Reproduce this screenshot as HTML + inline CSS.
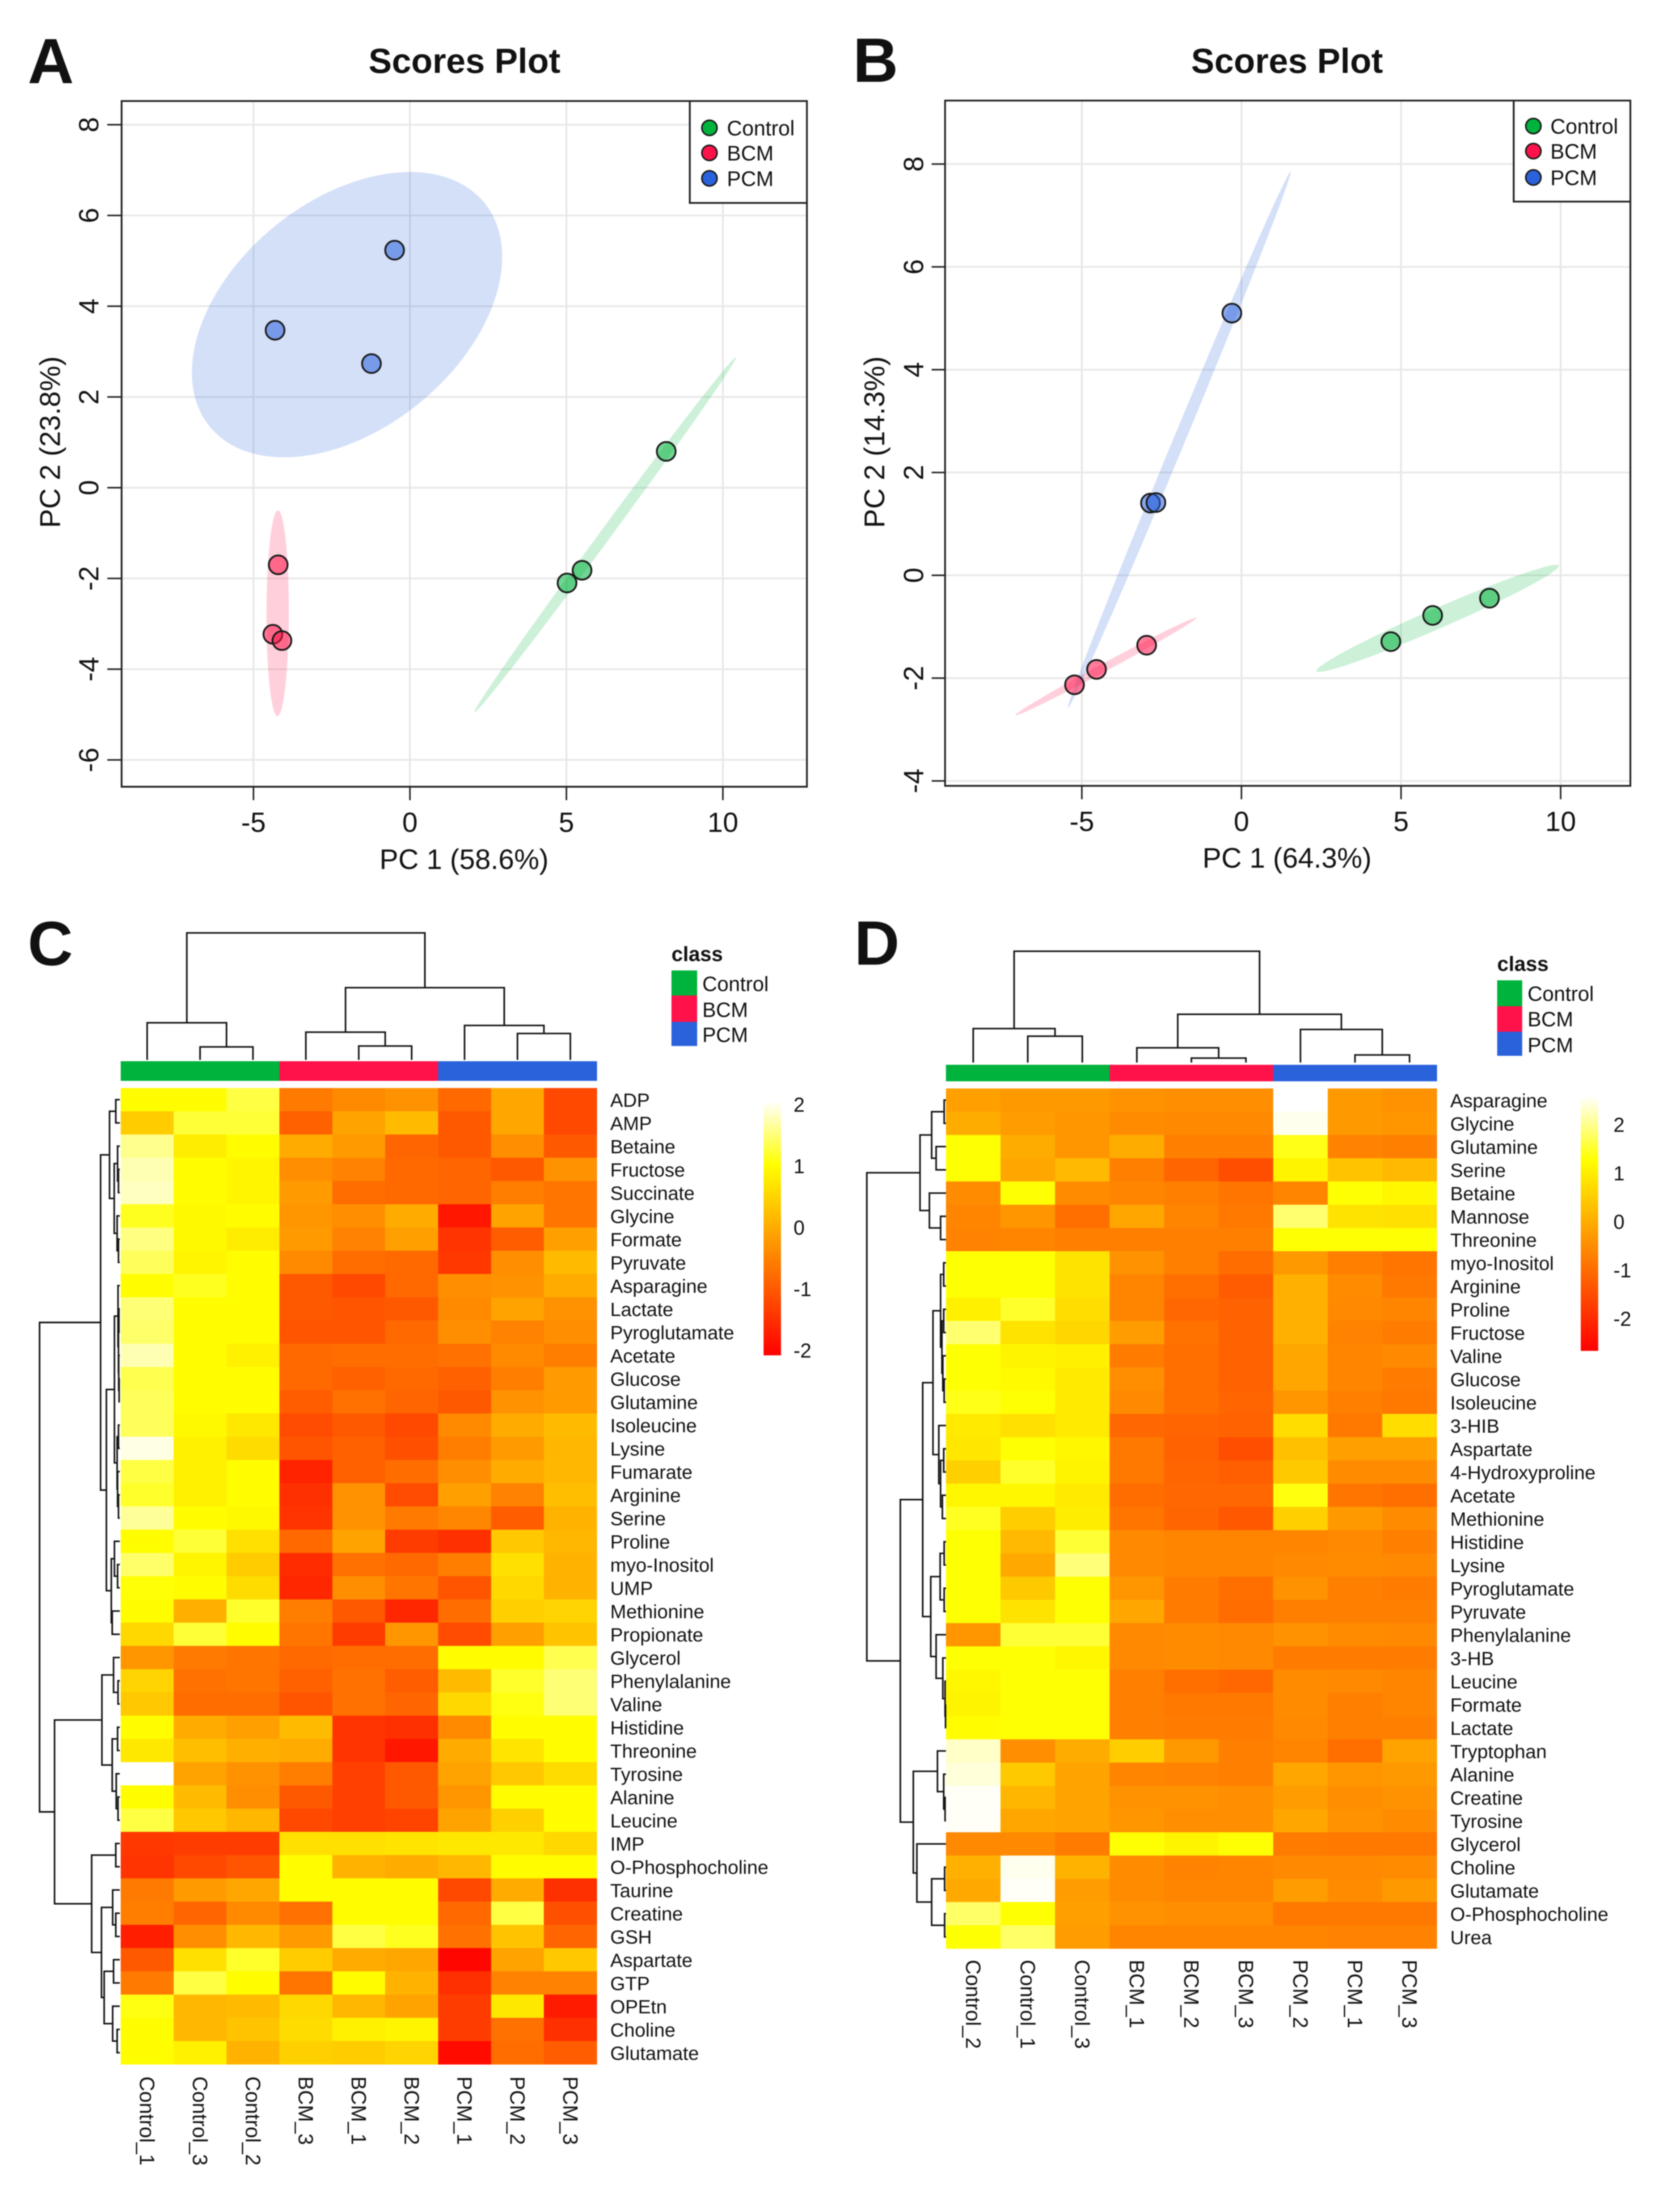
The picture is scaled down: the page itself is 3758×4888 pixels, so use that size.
<!DOCTYPE html>
<html lang="en">
<head>
<meta charset="utf-8">
<title>Scores plots and heatmaps</title>
<style>
html,body{margin:0;padding:0;background:#fff;}
svg{display:block;font-family:"Liberation Sans",Arial,sans-serif;filter:blur(1.2px);}
text{fill:#111;}
</style>
</head>
<body>
<svg id="figure" xmlns="http://www.w3.org/2000/svg" width="3758" height="4888" viewBox="0 0 3758 4888">
<defs>
<linearGradient id="heatGrad" x1="0" y1="1" x2="0" y2="0">
<stop offset="0" stop-color="#ff0000"/><stop offset="0.375" stop-color="#ff8000"/><stop offset="0.75" stop-color="#ffff00"/><stop offset="1" stop-color="#ffffff"/>
</linearGradient>
</defs>
<rect width="3758" height="4888" fill="#fff"/>
<text x="62" y="186" font-size="143" font-weight="700" fill="#000">A</text>
<text x="1908" y="183" font-size="140" font-weight="700" fill="#000">B</text>
<text x="62" y="2159" font-size="140" font-weight="700" fill="#000">C</text>
<text x="1911" y="2158" font-size="140" font-weight="700" fill="#000">D</text>
<text x="1039" y="163" font-size="78" font-weight="700" text-anchor="middle">Scores Plot</text>
<text x="2879" y="163" font-size="78" font-weight="700" text-anchor="middle">Scores Plot</text>
<text x="1038" y="1944" font-size="63" text-anchor="middle">PC 1 (58.6%)</text>
<text x="2879" y="1941" font-size="63" text-anchor="middle">PC 1 (64.3%)</text>
<text transform="translate(134 989) rotate(-90)" font-size="64" text-anchor="middle">PC 2 (23.8%)</text>
<text transform="translate(1978 989) rotate(-90)" font-size="64" text-anchor="middle">PC 2 (14.3%)</text>
<g id="layer"></g>
</svg>
<script>
// ---------- Scores plot A ----------
const aXTicks = [-5, 0, 5, 10];
const aYTicks = [-6, -4, -2, 0, 2, 4, 6, 8];
const aControlPC1 = [8.19, 5.50, 5.02];
const aControlPC2 = [0.80, -1.82, -2.10];
const aBcmPC1 = [-4.21, -4.38, -4.09];
const aBcmPC2 = [-1.70, -3.23, -3.37];
const aPcmPC1 = [-0.49, -4.31, -1.23];
const aPcmPC2 = [5.235, 3.47, 2.735];
// ---------- Scores plot B ----------
const bXTicks = [-5, 0, 5, 10];
const bYTicks = [-4, -2, 0, 2, 4, 6, 8];
const bControlPC1 = [4.68, 5.99, 7.77];
const bControlPC2 = [-1.29, -0.78, -0.445];
const bBcmPC1 = [-5.23, -4.54, -2.97];
const bBcmPC2 = [-2.13, -1.83, -1.36];
const bPcmPC1 = [-0.30, -2.85, -2.68];
const bPcmPC2 = [5.10, 1.405, 1.415];
const classNames = ["Control", "BCM", "PCM"];
// ---------- Heatmap C ----------
const cColumns = ["Control_1","Control_3","Control_2","BCM_3","BCM_1","BCM_2","PCM_1","PCM_2","PCM_3"];
const cRows = ["ADP","AMP","Betaine","Fructose","Succinate","Glycine","Formate","Pyruvate","Asparagine","Lactate","Pyroglutamate","Acetate","Glucose","Glutamine","Isoleucine","Lysine","Fumarate","Arginine","Serine","Proline","myo-Inositol","UMP","Methionine","Propionate","Glycerol","Phenylalanine","Valine","Histidine","Threonine","Tyrosine","Alanine","Leucine","IMP","O-Phosphocholine","Taurine","Creatine","GSH","Aspartate","GTP","OPEtn","Choline","Glutamate"];
const cValues = [
[1.0,1.0,1.3,-.6,-.4,-.3,-.8,-.05,-1.2],
[.4,1.25,1.25,-.9,-.1,.2,-1.0,-.05,-1.2],
[1.6,.8,1.0,0,-.2,-.85,-1.0,-.35,-1.0],
[1.75,1.0,.9,-.35,-.5,-.8,-.85,-1.0,-.3],
[1.8,1.0,.9,-.2,-.75,-.8,-.85,-.55,-.65],
[1.15,.95,1.0,-.25,-.35,0,-1.8,-.1,-.65],
[1.55,.95,.8,-.2,-.5,-.15,-1.45,-.95,-.15],
[1.4,.9,1.0,-.4,-.75,-.8,-1.4,-.35,.2],
[1.0,1.15,1.0,-1.0,-1.2,-.8,-.35,-.3,0],
[1.5,1.0,1.0,-1.0,-1.05,-1.0,-.4,-.1,-.3],
[1.45,1.0,1.0,-1.05,-1.05,-.8,-.35,-.5,-.35],
[1.75,1.0,.85,-.8,-.75,-.75,-.7,-.4,-.55],
[1.35,1.0,1.0,-.8,-.9,-.8,-.9,-.55,-.2],
[1.4,1.0,1.0,-.95,-.7,-.85,-1.0,-.3,-.2],
[1.4,.95,.75,-1.15,-1.0,-1.2,-.4,0,.2],
[1.95,.85,.6,-1.05,-.9,-1.1,-.55,-.2,.15],
[1.3,.85,1.0,-1.65,-.9,-.75,-.35,0,.15],
[1.2,.85,1.0,-1.5,-.3,-1.15,-.15,-.5,.25],
[1.65,1.0,.95,-1.45,-.3,-.6,-.45,-.95,.1],
[1.0,1.25,.65,-.8,-.1,-1.35,-1.5,.35,.15],
[1.45,.9,.4,-1.55,-.7,-.8,-.55,.65,.1],
[1.05,1.0,.6,-1.6,-.35,-.65,-1.05,.55,.1],
[1.0,.05,1.2,-.55,-1.0,-1.6,-.75,.45,.5],
[.55,1.25,1.0,-.65,-1.35,-.25,-1.15,-.15,.3],
[-.25,-.6,-.65,-.8,-.75,-.75,1.0,1.0,1.35],
[.5,-.7,-.65,-.9,-.7,-.95,.2,1.2,1.5],
[.35,-.75,-.75,-1.05,-.7,-.85,.55,1.1,1.5],
[1.0,0,-.15,.2,-1.45,-1.5,-.4,1.0,1.0],
[.75,.25,.05,0,-1.45,-1.8,0,.7,1.0],
[2.05,-.1,-.3,-.55,-1.3,-1.0,-.1,.35,.6],
[1.0,.2,-.35,-1.0,-1.3,-1.0,-.25,1.0,1.0],
[1.3,.35,.15,-1.2,-1.3,-1.25,-.1,.45,1.0],
[-1.4,-1.35,-1.35,.65,.65,.7,.75,.75,.55],
[-1.45,-1.2,-1.05,1.0,.1,0,.15,1.0,1.0],
[-.6,-.2,-.05,1.0,1.0,1.0,-1.2,0,-1.5],
[-.55,-.85,-.4,-.7,1.0,1.0,-.8,1.3,-1.1],
[-1.7,-.35,.15,-.2,1.3,1.15,-.7,.3,-.85],
[-1.0,.65,1.2,.4,0,-.05,-2.0,-.1,.35],
[-.6,1.3,1.0,-.65,1.0,.1,-1.5,-.5,-.5],
[1.1,.15,.2,.55,.15,-.1,-1.35,.75,-1.75],
[1.0,.15,.3,.6,.85,.9,-1.35,-.7,-1.5],
[1.0,.85,.1,.45,.4,.5,-1.95,-.75,-.95]
];
const cScaleTicks = [2, 1, 0, -1, -2];
const cColumnTree = [284,[83,0,[29,1,2]],[161.5,[62,3,[31,4,5]],[77,6,[59,7,8]]]];
const cRowTree = [179.5,
 [43,
  [23,[9,0,1],[12.5,[5,2,[3,3,4]],[6,5,[3,6,7]]]],
  [30,
   [12,[4,8,[3,[2,9,10],[2.5,11,[1.5,12,13]]]],[6,[3,14,15],[5,16,[3,17,18]]]],
   [19,[12,19,[5,20,21]],[17,22,23]]
  ]
 ],
 [146,
  [40,[14,24,[4,25,26]],[17,[5,27,28],[8,29,[4,30,31]]]],
  [63,[9,32,33],[41,[16,34,[9,35,36]],[35,[14,37,38],[16,39,[6,40,41]]]]]
 ]
];
// ---------- Heatmap D ----------
const dColumns = ["Control_2","Control_1","Control_3","BCM_1","BCM_2","BCM_3","PCM_2","PCM_1","PCM_3"];
const dRows = ["Asparagine","Glycine","Glutamine","Serine","Betaine","Mannose","Threonine","myo-Inositol","Arginine","Proline","Fructose","Valine","Glucose","Isoleucine","3-HIB","Aspartate","4-Hydroxyproline","Acetate","Methionine","Histidine","Lysine","Pyroglutamate","Pyruvate","Phenylalanine","3-HB","Leucine","Formate","Lactate","Tryptophan","Alanine","Creatine","Tyrosine","Glycerol","Choline","Glutamate","O-Phosphocholine","Urea"];
const dValues = [
[-.2,-.3,-.3,-.4,-.45,-.45,2.6,-.3,-.4],
[0,-.25,-.35,-.5,-.55,-.55,2.5,-.3,-.35],
[1.3,0,-.35,0,-.7,-.7,1.4,-.65,-.7],
[1.3,-.1,.2,-.7,-1.1,-1.45,1.1,.35,.2],
[-.5,1.3,-.5,-.6,-.7,-.85,-.6,1.3,1.15],
[-.6,-.35,-.95,-.1,-.6,-.8,1.85,.85,.8],
[-.65,-.6,-.7,-.7,-.7,-.7,1.3,1.3,1.3],
[1.3,1.3,.85,-.4,-.7,-1.0,-.3,-.7,-.85],
[1.3,1.3,.85,-.6,-.95,-1.25,.05,-.5,-.8],
[1.05,1.5,.75,-.6,-1.05,-1.15,.05,-.55,-.6],
[1.85,.85,.65,-.25,-.9,-1.15,.05,-.65,-.75],
[1.3,1.1,1.05,-.75,-.95,-1.15,-.1,-.6,-.55],
[1.3,1.2,.95,-.45,-.95,-1.15,-.1,-.6,-.75],
[1.4,1.3,.95,-.55,-.95,-1.1,-.35,-.7,-.8],
[.95,.8,.95,-1.05,-1.1,-1.15,.75,-.8,.75],
[.9,1.3,1.15,-.8,-1.15,-1.45,.3,-.2,-.2],
[.55,1.5,1.1,-.8,-1.1,-1.2,.45,-.5,-.5],
[1.15,1.15,.95,-1.0,-1.05,-1.05,1.35,-.85,-.95],
[1.45,.5,1.0,-.85,-1.1,-1.3,.55,-.3,-.5],
[1.3,.2,1.55,-.55,-.6,-.6,-.6,-.55,-.7],
[1.3,-.05,1.9,-.55,-.6,-.6,-.55,-.5,-.55],
[1.3,.45,1.3,-.35,-.75,-.95,-.4,-.7,-.75],
[1.3,.85,1.3,-.1,-.75,-1.0,-.7,-.7,-.7],
[-.35,1.55,1.55,-.55,-.5,-.55,-.4,-.5,-.55],
[1.3,1.3,1.15,-.55,-.5,-.55,-.75,-.75,-.75],
[1.15,1.3,1.3,-.7,-.95,-1.05,-.5,-.55,-.6],
[1.1,1.3,1.3,-.7,-.8,-.8,-.5,-.7,-.6],
[1.25,1.3,1.3,-.7,-.75,-.75,-.55,-.7,-.7],
[2.3,-.45,0,.5,-.3,-.7,-.6,-.95,-.15],
[2.4,.45,-.15,-.6,-.65,-.7,-.1,-.35,-.3],
[2.55,.15,-.15,-.4,-.4,-.45,-.25,-.45,-.4],
[2.55,-.1,-.15,-.35,-.45,-.45,-.1,-.4,-.5],
[-.55,-.55,-.75,1.3,1.1,1.3,-.75,-.8,-.8],
[.05,2.5,.1,-.5,-.65,-.6,-.55,-.55,-.5],
[-.05,2.55,-.25,-.5,-.6,-.6,-.25,-.5,-.3],
[1.8,1.3,-.2,-.4,-.45,-.45,-.8,-.8,-.8],
[1.3,1.8,-.25,-.6,-.6,-.6,-.6,-.65,-.65]
];
const dScaleTicks = [2, 1, 0, -1, -2];
const dColumnTree = [249,[76,0,[59,1,2]],[108,[33,3,[10,4,5]],[74,6,[17,7,8]]]];
const dRowTree = [177,
 [58,
  [32,[4,0,1],[22,2,3]],
  [37,4,[12,5,6]]
 ],
 [102,
  [52,
   [29,
    [12,[5,7,8],[9,[5,9,10],[7,11,[4,12,13]]]],
    [16,14,[12,[5,15,16],[8,17,18]]]
   ],
   [34,
    [13,[4,19,20],[4,21,22]],
    [22,23,[7,24,[2,25,[1,26,27]]]]
   ]
  ],
  [73,
   [19,28,[5,29,[2,30,31]]],
   [65,32,[32,[3,33,34],[3,35,36]]]
  ]
 ]
];

const classColors = ["#00b33c", "#ff1249", "#2a62dc"];
const classSlug = ["control", "bcm", "pcm"];
const NS = "http://www.w3.org/2000/svg";
const layer = document.getElementById("layer");
function mk(tag, attrs, txt, parent) {
  const e = document.createElementNS(NS, tag);
  for (const k in attrs) e.setAttribute(k, attrs[k]);
  if (txt !== undefined && txt !== null) e.textContent = txt;
  (parent || layer).appendChild(e);
  return e;
}
function confidencePath(xs, ys, xf, yf) {
  const n = xs.length;
  const mx = xs.reduce((a, b) => a + b, 0) / n;
  const my = ys.reduce((a, b) => a + b, 0) / n;
  let sxx = 0, syy = 0, sxy = 0;
  for (let i = 0; i < n; i++) {
    sxx += (xs[i] - mx) * (xs[i] - mx);
    syy += (ys[i] - my) * (ys[i] - my);
    sxy += (xs[i] - mx) * (ys[i] - my);
  }
  sxx /= n - 1; syy /= n - 1; sxy /= n - 1;
  const sx = Math.sqrt(sxx), sy = Math.sqrt(syy);
  const r = Math.max(-1, Math.min(1, sxy / (sx * sy)));
  const d = Math.acos(r), t = 2.4477;
  let p = "";
  for (let i = 0; i < 120; i++) {
    const a = i / 120 * 2 * Math.PI;
    const x = mx + t * sx * Math.cos(a + d / 2);
    const y = my + t * sy * Math.cos(a - d / 2);
    p += (i ? "L" : "M") + xf(x).toFixed(1) + " " + yf(y).toFixed(1);
  }
  return p + "Z";
}
function drawScores(cfg) {
  const { key, box, xf, yf, xTicks, yTicks, series, legend, tickX, xLabelY, yLabelX } = cfg;
  xTicks.forEach(v => {
    const line = mk("line", { x1: xf(v), x2: xf(v), y1: box.top, y2: box.bottom, stroke: "#e6e6e6", "stroke-width": 4 });
    
    
  });
  yTicks.forEach(v => {
    const line = mk("line", { x1: box.left, x2: box.right, y1: yf(v), y2: yf(v), stroke: "#e8e8e8", "stroke-width": 4 });
    
    
  });
  series.forEach((s, i) => {
    const el = mk("path", { d: confidencePath(s.x, s.y, xf, yf), fill: classColors[i], "fill-opacity": 0.2 });
    
    
  });
  xTicks.forEach(v => {
    const tick = mk("line", { x1: xf(v), x2: xf(v), y1: box.bottom, y2: box.bottom + 30, stroke: "#222", "stroke-width": 3.5 });
    
    
    const t = mk("text", { x: xf(v), y: xLabelY, "font-size": 62, "text-anchor": "middle" }, String(v));
    
    
  });
  yTicks.forEach(v => {
    const tick = mk("line", { x1: tickX, x2: box.left, y1: yf(v), y2: yf(v), stroke: "#222", "stroke-width": 3.5 });
    
    
    const t = mk("text", { transform: "translate(" + yLabelX + " " + yf(v) + ") rotate(-90)", "font-size": 62, "text-anchor": "middle" }, String(v));
    
    
  });
  series.forEach((s, i) => {
    s.x.forEach((vx, j) => {
      const c = mk("circle", { cx: xf(vx), cy: yf(s.y[j]), r: 21, fill: classColors[i], "fill-opacity": 0.55, stroke: "#1a1a1a", "stroke-width": 4 });
      
      
    });
  });
  const frame = mk("rect", { x: box.left, y: box.top, width: box.right - box.left, height: box.bottom - box.top, fill: "none", stroke: "#222", "stroke-width": 4 });
  
  
  const lb = mk("rect", { x: legend.left, y: box.top, width: box.right - legend.left, height: legend.bottom - box.top, fill: "#fff", stroke: "#222", "stroke-width": 4 });
  
  
  classNames.forEach((name, i) => {
    const c = mk("circle", { cx: legend.dotX, cy: legend.rows[i], r: 17, fill: classColors[i], stroke: "#1a1a1a", "stroke-width": 3.5 });
    
    
    const t = mk("text", { x: legend.textX, y: legend.rows[i] + 17, "font-size": 47 }, name);
    
    
  });
}
drawScores({
  key: "a",
  box: { left: 272, right: 1805, top: 226, bottom: 1760 },
  xf: v => 917 + v * 70,
  yf: v => 1091 - v * 101.5,
  xTicks: aXTicks, yTicks: aYTicks,
  series: [{ x: aControlPC1, y: aControlPC2 }, { x: aBcmPC1, y: aBcmPC2 }, { x: aPcmPC1, y: aPcmPC2 }],
  legend: { left: 1543, bottom: 454, dotX: 1587, textX: 1626, rows: [286, 342, 399] },
  tickX: 240, xLabelY: 1861, yLabelX: 220
});
drawScores({
  key: "b",
  box: { left: 2114, right: 3647, top: 225, bottom: 1758 },
  xf: v => 2777 + v * 71.4,
  yf: v => 1287 - v * 115,
  xTicks: bXTicks, yTicks: bYTicks,
  series: [{ x: bControlPC1, y: bControlPC2 }, { x: bBcmPC1, y: bBcmPC2 }, { x: bPcmPC1, y: bPcmPC2 }],
  legend: { left: 3386, bottom: 451, dotX: 3430, textX: 3468, rows: [282, 338, 397] },
  tickX: 2084, xLabelY: 1859, yLabelX: 2065
});

function heatColor(v, lo, hi) {
  const t = Math.max(0, Math.min(1, (v - lo) / (hi - lo)));
  if (t < 0.75) return "rgb(255," + Math.round(255 * t / 0.75) + ",0)";
  return "rgb(255,255," + Math.round(255 * (t - 0.75) / 0.25) + ")";
}
function drawTree(node, leafPos, basePos, horizontal, name) {
  if (typeof node === "number") return { p: leafPos(node), h: 0 };
  const a = drawTree(node[1], leafPos, basePos, horizontal, name);
  const b = drawTree(node[2], leafPos, basePos, horizontal, name);
  const h = node[0];
  const m = horizontal
    ? "M" + (basePos - a.h) + " " + a.p + "L" + (basePos - h) + " " + a.p + "L" + (basePos - h) + " " + b.p + "L" + (basePos - b.h) + " " + b.p
    : "M" + a.p + " " + (basePos - a.h) + "L" + a.p + " " + (basePos - h) + "L" + b.p + " " + (basePos - h) + "L" + b.p + " " + (basePos - b.h);
  const link = mk("path", { d: m, fill: "none", stroke: "#111", "stroke-width": 3.6 });
  
  
  return { p: (a.p + b.p) / 2, h: h };
}
function drawHeat(cfg) {
  const { key, left, right, top, rowH, rows, cols, values, lo, hi, bar, rowTree, colTree, rowBase, colBase, labelX, colLabelY, legend, scale, scaleTicks } = cfg;
  const cw = (right - left) / cols.length;
  values.forEach((row, r) => {
    row.forEach((v, c) => {
      const cell = mk("rect", { x: left + c * cw, y: top + r * rowH, width: cw + 0.5, height: rowH + 0.5, fill: heatColor(v, lo, hi), "shape-rendering": "crispEdges" });
      
      
    });
  });
  rows.forEach((name, r) => {
    const t = mk("text", { x: labelX, y: top + rowH * (r + 0.5) + 16, "font-size": 43 }, name);
    
    
  });
  cols.forEach((name, c) => {
    const bx = left + cw * (c + 0.5) - 16;
    const t = mk("text", { transform: "translate(" + bx + " " + colLabelY + ") rotate(90)", "font-size": 46 }, name);
    
    
    const group = Math.floor(c / 3);
    const seg = mk("rect", { x: left + c * cw, y: bar.top, width: cw + 0.5, height: bar.bottom - bar.top, fill: classColors[group], "shape-rendering": "crispEdges" });
    
    
  });
  drawTree(colTree, i => left + cw * (i + 0.5), colBase, false, 'column-dendrogram-link');
  drawTree(rowTree, i => top + rowH * (i + 0.5), rowBase, true, 'row-dendrogram-link');
  const cap = mk("text", { x: legend.x, y: legend.titleY, "font-size": 46, "font-weight": 700, fill: "#000" }, "class");
  
  
  classNames.forEach((name, i) => {
    const sw = mk("rect", { x: legend.x, y: legend.edges[i], width: legend.w, height: legend.edges[i + 1] - legend.edges[i], fill: classColors[i] });
    
    
    const t = mk("text", { x: legend.textX, y: legend.base[i], "font-size": 46 }, name);
    
    
  });
  const cb = mk("rect", { x: scale.left, y: scale.top, width: scale.right - scale.left, height: scale.bottom - scale.top, fill: "url(#heatGrad)" });
  
  
  scaleTicks.forEach(v => {
    const t = mk("text", { x: scale.textX, y: scale.zero - v * scale.perUnit + 16, "font-size": 45 }, String(v));
    
    
  });
}
drawHeat({
  key: "c", left: 270, right: 1335, top: 2434, rowH: 52,
  rows: cRows, cols: cColumns, values: cValues, lo: -2.08, hi: 2.06,
  bar: { top: 2374, bottom: 2418 },
  rowTree: cRowTree, colTree: cColumnTree, rowBase: 268, colBase: 2371,
  labelX: 1365, colLabelY: 4645,
  legend: { x: 1502, titleY: 2150, w: 57.5, edges: [2171, 2227, 2286, 2340], textX: 1571, base: [2217, 2275, 2331] },
  scale: { left: 1708, right: 1747, top: 2463, bottom: 3032, textX: 1775, zero: 2746, perUnit: 137.5 },
  scaleTicks: cScaleTicks
});
drawHeat({
  key: "d", left: 2116, right: 3214, top: 2435, rowH: 52,
  rows: dRows, cols: dColumns, values: dValues, lo: -2.66, hi: 2.59,
  bar: { top: 2382, bottom: 2419 },
  rowTree: dRowTree, colTree: dColumnTree, rowBase: 2116, colBase: 2377,
  labelX: 3244, colLabelY: 4384,
  legend: { x: 3349, titleY: 2172, w: 56, edges: [2193, 2251, 2308, 2362], textX: 3417, base: [2239, 2296, 2354] },
  scale: { left: 3536, right: 3575, top: 2452, bottom: 3022, textX: 3609, zero: 2733, perUnit: 108.5 },
  scaleTicks: dScaleTicks
});
</script>
</body>
</html>
